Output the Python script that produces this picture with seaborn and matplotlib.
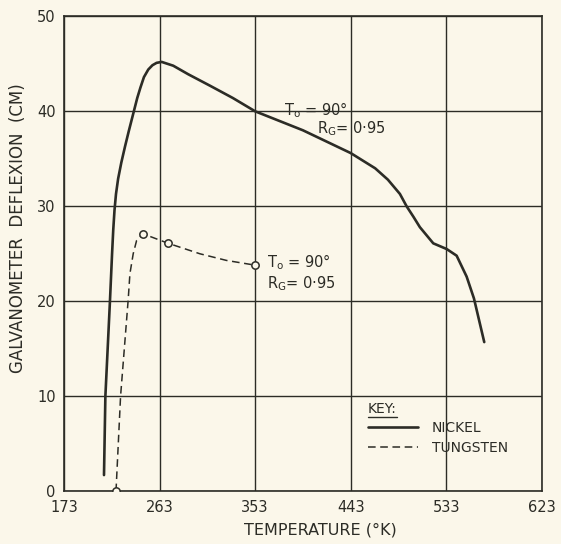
import matplotlib
matplotlib.use("Agg")
import matplotlib.pyplot as plt
from matplotlib.lines import Line2D
import pandas as pd
import seaborn as sns

# values
nickel_temp = [210.7, 212.0, 216.3, 218.3, 219.4, 220.6, 222.0, 224.0, 227.0, 230.5,
               234.0, 238.8, 242.0, 245.0, 248.3, 252.4, 256.3, 260.2, 265.0, 275.9,
               290.0, 310.4, 332.0, 353.0, 398.0, 443.0, 466.0, 478.0, 489.3, 495.6,
               502.0, 508.1, 520.7, 533.3, 542.7, 552.1, 559.0, 568.7]
nickel_defl = [1.7, 10.0, 20.0, 25.0, 27.5, 29.6, 31.3, 32.9, 34.6, 36.3,
               37.9, 40.0, 41.4, 42.5, 43.6, 44.4, 44.85, 45.1, 45.2, 44.8,
               43.9, 42.7, 41.4, 40.0, 38.0, 35.6, 34.0, 32.8, 31.3, 30.0,
               28.9, 27.8, 26.1, 25.5, 24.8, 22.6, 20.3, 15.7]

tungsten_temp = [222.0, 226.3, 233.5, 235.1, 238.2, 241.4, 247.5, 271.2, 301.0, 326.0, 353.0]
tungsten_defl = [0.0, 10.0, 20.2, 22.9, 25.0, 26.4, 27.1, 26.1, 25.0, 24.3, 23.8]

# circled observation points on the tungsten curve
tungsten_pts_temp = [222.0, 247.5, 271.2, 353.0]
tungsten_pts_defl = [0.0, 27.1, 26.1, 23.8]

x_ticks = [173, 263, 353, 443, 533, 623]
y_ticks = [0, 10, 20, 30, 40, 50]

ink = "#2c2c26"
paper = "#fbf7ea"

sns.set_theme(style="white")
plt.rcParams["font.family"] = ["DejaVu Sans"]

nickel = pd.DataFrame({"temp": nickel_temp, "defl": nickel_defl})
tungsten = pd.DataFrame({"temp": tungsten_temp, "defl": tungsten_defl})
pts = pd.DataFrame({"temp": tungsten_pts_temp, "defl": tungsten_pts_defl})

fig = plt.figure(figsize=(5.61, 5.44), dpi=100, facecolor=paper)
ax = fig.add_axes([0.114, 0.097, 0.852, 0.873], facecolor=paper)

sns.lineplot(data=nickel, x="temp", y="defl", ax=ax, color=ink, linewidth=1.9,
             estimator=None, sort=False, label="NICKEL")
sns.lineplot(data=tungsten, x="temp", y="defl", ax=ax, color=ink, linewidth=1.1,
             linestyle=(0, (5, 3)), estimator=None, sort=False, label="TUNGSTEN")
ax.scatter(pts["temp"], pts["defl"], s=28, facecolors=paper, edgecolors=ink,
           linewidths=1.1, zorder=5)

ax.set_xlim(173, 623)
ax.set_ylim(0, 50)
ax.set_xticks(x_ticks)
ax.set_yticks(y_ticks)
ax.grid(True, color=ink, linewidth=1.0)
ax.set_axisbelow(True)
for s in ax.spines.values():
    s.set_color(ink)
    s.set_linewidth(1.2)
ax.tick_params(length=0, labelsize=10.5, labelcolor=ink, pad=6)

ax.set_xlabel("TEMPERATURE (°K)", fontsize=11.5, color=ink)
ax.set_ylabel("GALVANOMETER  DEFLEXION  (CM)", fontsize=12, color=ink)
ax.xaxis.set_label_coords(0.536, -0.066)
ax.yaxis.set_label_coords(-0.077, 0.554)

# curve annotations
ax.text(380, 40.1, r"T$_\mathrm{o}$ = 90°", fontsize=10.5, color=ink, va="center")
ax.text(411, 38.2, r"R$_\mathrm{G}$= 0·95", fontsize=10.5, color=ink, va="center")
ax.text(364, 24.1, r"T$_\mathrm{o}$ = 90°", fontsize=10.5, color=ink, va="center")
ax.text(364, 21.9, r"R$_\mathrm{G}$= 0·95", fontsize=10.5, color=ink, va="center")

leg = ax.legend(title="KEY:", loc="upper left", bbox_to_anchor=(0.61, 0.215),
                frameon=False, fontsize=10, title_fontsize=10, handlelength=3.6,
                handletextpad=1.0, labelspacing=0.4, alignment="left")
for t in leg.get_texts():
    t.set_color(ink)
leg.get_title().set_color(ink)

# underline the key title
fig.canvas.draw()
bb = leg.get_title().get_window_extent()
fig.add_artist(Line2D([bb.x0, bb.x1], [bb.y0 - 1, bb.y0 - 1], transform=None,
                      color=ink, linewidth=1.0))

fig.savefig("out.png", dpi=100, facecolor=paper)
